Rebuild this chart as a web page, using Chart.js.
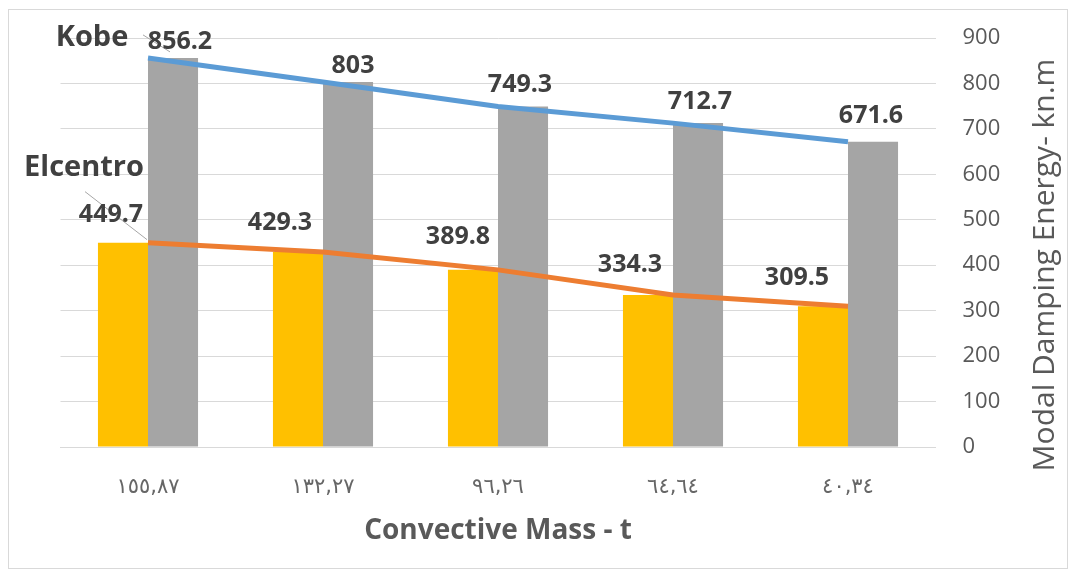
<!DOCTYPE html>
<html>
<head>
<meta charset="utf-8">
<script src="https://cdn.jsdelivr.net/npm/chart.js@4.4.1/dist/chart.umd.min.js"></script>
<style>
  html, body { margin: 0; padding: 0; background: #fff; }
  #frame {
    position: absolute;
    left: 8px;
    top: 9px;
    width: 1058px;
    height: 558px;
    border: 1px solid #d9d9d9;
  }
  #frame canvas { display: block; }
</style>
</head>
<body>
<div id="frame"><canvas id="dataChart"></canvas></div>
<script>
// ===== DATA =====
const massLabels = ["١٥٥,٨٧", "١٣٢,٢٧", "٩٦,٢٦", "٦٤,٦٤", "٤٠,٣٤"];
const elcentroValues = [449.7, 429.3, 389.8, 334.3, 309.5];
const kobeValues = [856.2, 803, 749.3, 712.7, 671.6];
const energyMin = 0;
const energyMax = 900;
const energyStep = 100;

// label offsets from each line point (px)
const kobeOffsets = [[32, -16], [30, -16], [22, -22], [27, -21], [23, -26]];
const elcentroOffsets = [[-37, -28], [-43, -29], [-40, -33], [-43, -30], [-51, -28]];

const ctx = document.getElementById("dataChart");

// draws value labels, series names and the right-hand axis title
const labelPlugin = {
  id: "pointLabels",
  afterDatasetsDraw(chart) {
    const c = chart.ctx;
    const kobeMeta = chart.getDatasetMeta(1);
    const elMeta = chart.getDatasetMeta(0);
    c.save();
    c.textAlign = "center";
    c.textBaseline = "middle";
    c.fillStyle = "#404040";

    // leader lines for the first points
    c.strokeStyle = "#a6a6a6";
    c.lineWidth = 1;
    const k0 = kobeMeta.data[0];
    const e0 = elMeta.data[0];
    c.beginPath();
    c.moveTo(k0.x - 5, k0.y - 23);
    c.lineTo(k0.x + 22, k0.y - 6);
    c.moveTo(e0.x - 63, e0.y - 51);
    c.lineTo(e0.x - 1, e0.y - 3);
    c.stroke();

    c.font = "bold 25px 'Open Sans'";
    kobeValues.forEach((v, i) => {
      const p = kobeMeta.data[i];
      c.fillText(String(v), p.x + kobeOffsets[i][0], p.y + kobeOffsets[i][1]);
    });
    elcentroValues.forEach((v, i) => {
      const p = elMeta.data[i];
      c.fillText(String(v), p.x + elcentroOffsets[i][0], p.y + elcentroOffsets[i][1]);
    });

    // series names
    c.font = "bold 29px 'Open Sans'";
    c.fillText("Kobe", k0.x - 56, k0.y - 20);
    c.fillText("Elcentro", e0.x - 64, e0.y - 75);
    c.restore();
  },
  afterDraw(chart) {
    const c = chart.ctx;
    const y = chart.scales.y;
    c.save();
    c.translate(y.right - 22, chart.chartArea.top + 227);
    c.rotate(-Math.PI / 2);
    c.textAlign = "center";
    c.textBaseline = "middle";
    c.fillStyle = "#595959";
    c.font = "30px 'Open Sans'";
    c.fillText("Modal Damping Energy- kn.m", 0, 0);
    c.restore();
  },
};

const chart = new Chart(ctx, {
  type: "bar",
  data: {
    labels: massLabels,
    datasets: [
      {
        type: "line",
        label: "Elcentro",
        data: elcentroValues,
        borderColor: "#ED7D31",
        borderWidth: 5,
        pointRadius: 0,
        fill: false,
        order: 0,
      },
      {
        type: "line",
        label: "Kobe",
        data: kobeValues,
        borderColor: "#5B9BD5",
        borderWidth: 5,
        pointRadius: 0,
        fill: false,
        order: 0,
      },
      {
        label: "Elcentro",
        data: elcentroValues,
        backgroundColor: "#FFC000",
        categoryPercentage: 0.572,
        barPercentage: 1,
        order: 1,
      },
      {
        label: "Kobe",
        data: kobeValues,
        backgroundColor: "#A5A5A5",
        categoryPercentage: 0.572,
        barPercentage: 1,
        order: 1,
      },
    ],
  },
  options: {
    responsive: true,
    maintainAspectRatio: false,
    animation: false,
    layout: { padding: { left: 51.5, top: 28, right: 0, bottom: 0 } },
    plugins: {
      legend: { display: false },
      tooltip: { enabled: false },
    },
    scales: {
      x: {
        grid: { display: false },
        border: { color: "#d9d9d9", width: 1 },
        ticks: {
          color: "#666666",
          font: { family: "'DejaVu Sans'", size: 21 },
          padding: 20,
          maxRotation: 0,
        },
        title: {
          display: true,
          text: "Convective Mass - t",
          color: "#595959",
          font: { family: "'Open Sans'", size: 28, weight: "bold" },
          padding: { top: 0, bottom: 20 },
        },
        afterFit: (scale) => {
          scale.height = 121;
        },
      },
      y: {
        position: "right",
        min: energyMin,
        max: energyMax,
        grid: { color: "#d9d9d9", lineWidth: 1, drawTicks: false },
        border: { display: false },
        ticks: {
          stepSize: energyStep,
          color: "#595959",
          font: { family: "'Open Sans'", size: 22 },
          padding: 27,
        },
        afterFit: (scale) => {
          scale.width = 131.5;
          scale.paddingTop = 0;
          scale.paddingBottom = 0;
        },
      },
    },
  },
  plugins: [labelPlugin],
});
</script>
</body>
</html>
